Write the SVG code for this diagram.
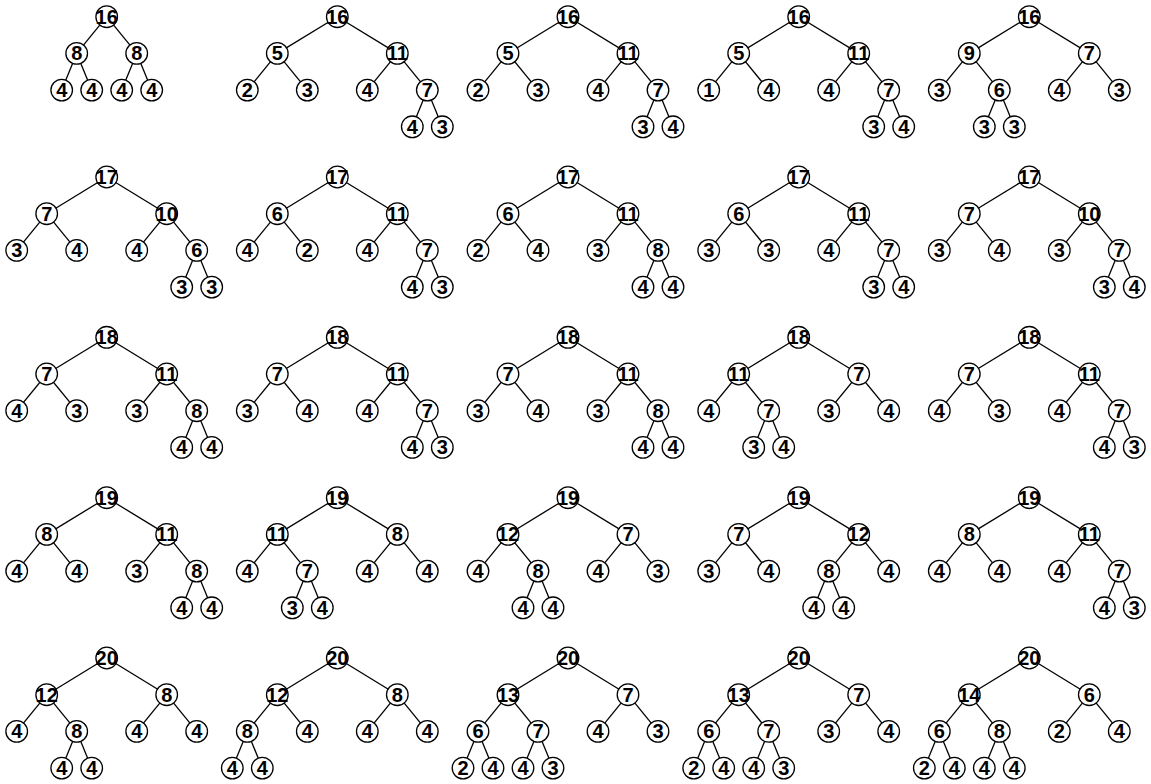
<svg xmlns="http://www.w3.org/2000/svg" width="1151" height="784" viewBox="0 0 1151 784">
<style>
.node circle{fill:#fff;stroke:#000;stroke-width:1.3}
.node text{font-family:"Liberation Sans",Arial,sans-serif;font-weight:bold;font-size:20px;text-anchor:middle;fill:#000}
.edges line{stroke:#000;stroke-width:1.3}
</style>
<rect width="1151" height="784" fill="#fff"/>
<g id="tree1" transform="translate(106.7,16.7)">
<g class="edges"><line x1="0" y1="0" x2="-30" y2="36.7"/><line x1="0" y1="0" x2="30" y2="36.7"/><line x1="-30" y1="36.7" x2="-45" y2="73.4"/><line x1="-30" y1="36.7" x2="-15" y2="73.4"/><line x1="30" y1="36.7" x2="15" y2="73.4"/><line x1="30" y1="36.7" x2="45" y2="73.4"/></g>
<g id="t1-root" class="node"><circle cx="0" cy="0" r="10.8"/><text x="0" y="7">16</text></g>
<g id="t1-L" class="node"><circle cx="-30" cy="36.7" r="10.8"/><text x="-30" y="43.7">8</text></g>
<g id="t1-R" class="node"><circle cx="30" cy="36.7" r="10.8"/><text x="30" y="43.7">8</text></g>
<g id="t1-LL" class="node"><circle cx="-45" cy="73.4" r="10.8"/><text x="-45" y="80.4">4</text></g>
<g id="t1-LR" class="node"><circle cx="-15" cy="73.4" r="10.8"/><text x="-15" y="80.4">4</text></g>
<g id="t1-RL" class="node"><circle cx="15" cy="73.4" r="10.8"/><text x="15" y="80.4">4</text></g>
<g id="t1-RR" class="node"><circle cx="45" cy="73.4" r="10.8"/><text x="45" y="80.4">4</text></g>
</g>
<g id="tree2" transform="translate(337.3,16.7)">
<g class="edges"><line x1="0" y1="0" x2="-60" y2="36.7"/><line x1="0" y1="0" x2="60" y2="36.7"/><line x1="-60" y1="36.7" x2="-90" y2="73.4"/><line x1="-60" y1="36.7" x2="-30" y2="73.4"/><line x1="60" y1="36.7" x2="30" y2="73.4"/><line x1="60" y1="36.7" x2="90" y2="73.4"/><line x1="90" y1="73.4" x2="75" y2="110.1"/><line x1="90" y1="73.4" x2="105" y2="110.1"/></g>
<g id="t2-root" class="node"><circle cx="0" cy="0" r="10.8"/><text x="0" y="7">16</text></g>
<g id="t2-L" class="node"><circle cx="-60" cy="36.7" r="10.8"/><text x="-60" y="43.7">5</text></g>
<g id="t2-R" class="node"><circle cx="60" cy="36.7" r="10.8"/><text x="60" y="43.7">11</text></g>
<g id="t2-LL" class="node"><circle cx="-90" cy="73.4" r="10.8"/><text x="-90" y="80.4">2</text></g>
<g id="t2-LR" class="node"><circle cx="-30" cy="73.4" r="10.8"/><text x="-30" y="80.4">3</text></g>
<g id="t2-RL" class="node"><circle cx="30" cy="73.4" r="10.8"/><text x="30" y="80.4">4</text></g>
<g id="t2-RR" class="node"><circle cx="90" cy="73.4" r="10.8"/><text x="90" y="80.4">7</text></g>
<g id="t2-RRL" class="node"><circle cx="75" cy="110.1" r="10.8"/><text x="75" y="117.1">4</text></g>
<g id="t2-RRR" class="node"><circle cx="105" cy="110.1" r="10.8"/><text x="105" y="117.1">3</text></g>
</g>
<g id="tree3" transform="translate(568,16.7)">
<g class="edges"><line x1="0" y1="0" x2="-60" y2="36.7"/><line x1="0" y1="0" x2="60" y2="36.7"/><line x1="-60" y1="36.7" x2="-90" y2="73.4"/><line x1="-60" y1="36.7" x2="-30" y2="73.4"/><line x1="60" y1="36.7" x2="30" y2="73.4"/><line x1="60" y1="36.7" x2="90" y2="73.4"/><line x1="90" y1="73.4" x2="75" y2="110.1"/><line x1="90" y1="73.4" x2="105" y2="110.1"/></g>
<g id="t3-root" class="node"><circle cx="0" cy="0" r="10.8"/><text x="0" y="7">16</text></g>
<g id="t3-L" class="node"><circle cx="-60" cy="36.7" r="10.8"/><text x="-60" y="43.7">5</text></g>
<g id="t3-R" class="node"><circle cx="60" cy="36.7" r="10.8"/><text x="60" y="43.7">11</text></g>
<g id="t3-LL" class="node"><circle cx="-90" cy="73.4" r="10.8"/><text x="-90" y="80.4">2</text></g>
<g id="t3-LR" class="node"><circle cx="-30" cy="73.4" r="10.8"/><text x="-30" y="80.4">3</text></g>
<g id="t3-RL" class="node"><circle cx="30" cy="73.4" r="10.8"/><text x="30" y="80.4">4</text></g>
<g id="t3-RR" class="node"><circle cx="90" cy="73.4" r="10.8"/><text x="90" y="80.4">7</text></g>
<g id="t3-RRL" class="node"><circle cx="75" cy="110.1" r="10.8"/><text x="75" y="117.1">3</text></g>
<g id="t3-RRR" class="node"><circle cx="105" cy="110.1" r="10.8"/><text x="105" y="117.1">4</text></g>
</g>
<g id="tree4" transform="translate(798.7,16.7)">
<g class="edges"><line x1="0" y1="0" x2="-60" y2="36.7"/><line x1="0" y1="0" x2="60" y2="36.7"/><line x1="-60" y1="36.7" x2="-90" y2="73.4"/><line x1="-60" y1="36.7" x2="-30" y2="73.4"/><line x1="60" y1="36.7" x2="30" y2="73.4"/><line x1="60" y1="36.7" x2="90" y2="73.4"/><line x1="90" y1="73.4" x2="75" y2="110.1"/><line x1="90" y1="73.4" x2="105" y2="110.1"/></g>
<g id="t4-root" class="node"><circle cx="0" cy="0" r="10.8"/><text x="0" y="7">16</text></g>
<g id="t4-L" class="node"><circle cx="-60" cy="36.7" r="10.8"/><text x="-60" y="43.7">5</text></g>
<g id="t4-R" class="node"><circle cx="60" cy="36.7" r="10.8"/><text x="60" y="43.7">11</text></g>
<g id="t4-LL" class="node"><circle cx="-90" cy="73.4" r="10.8"/><text x="-90" y="80.4">1</text></g>
<g id="t4-LR" class="node"><circle cx="-30" cy="73.4" r="10.8"/><text x="-30" y="80.4">4</text></g>
<g id="t4-RL" class="node"><circle cx="30" cy="73.4" r="10.8"/><text x="30" y="80.4">4</text></g>
<g id="t4-RR" class="node"><circle cx="90" cy="73.4" r="10.8"/><text x="90" y="80.4">7</text></g>
<g id="t4-RRL" class="node"><circle cx="75" cy="110.1" r="10.8"/><text x="75" y="117.1">3</text></g>
<g id="t4-RRR" class="node"><circle cx="105" cy="110.1" r="10.8"/><text x="105" y="117.1">4</text></g>
</g>
<g id="tree5" transform="translate(1029.3,16.7)">
<g class="edges"><line x1="0" y1="0" x2="-60" y2="36.7"/><line x1="0" y1="0" x2="60" y2="36.7"/><line x1="-60" y1="36.7" x2="-90" y2="73.4"/><line x1="-60" y1="36.7" x2="-30" y2="73.4"/><line x1="60" y1="36.7" x2="30" y2="73.4"/><line x1="60" y1="36.7" x2="90" y2="73.4"/><line x1="-30" y1="73.4" x2="-45" y2="110.1"/><line x1="-30" y1="73.4" x2="-15" y2="110.1"/></g>
<g id="t5-root" class="node"><circle cx="0" cy="0" r="10.8"/><text x="0" y="7">16</text></g>
<g id="t5-L" class="node"><circle cx="-60" cy="36.7" r="10.8"/><text x="-60" y="43.7">9</text></g>
<g id="t5-R" class="node"><circle cx="60" cy="36.7" r="10.8"/><text x="60" y="43.7">7</text></g>
<g id="t5-LL" class="node"><circle cx="-90" cy="73.4" r="10.8"/><text x="-90" y="80.4">3</text></g>
<g id="t5-LR" class="node"><circle cx="-30" cy="73.4" r="10.8"/><text x="-30" y="80.4">6</text></g>
<g id="t5-RL" class="node"><circle cx="30" cy="73.4" r="10.8"/><text x="30" y="80.4">4</text></g>
<g id="t5-RR" class="node"><circle cx="90" cy="73.4" r="10.8"/><text x="90" y="80.4">3</text></g>
<g id="t5-LRL" class="node"><circle cx="-45" cy="110.1" r="10.8"/><text x="-45" y="117.1">3</text></g>
<g id="t5-LRR" class="node"><circle cx="-15" cy="110.1" r="10.8"/><text x="-15" y="117.1">3</text></g>
</g>
<g id="tree6" transform="translate(106.7,177)">
<g class="edges"><line x1="0" y1="0" x2="-60" y2="36.7"/><line x1="0" y1="0" x2="60" y2="36.7"/><line x1="-60" y1="36.7" x2="-90" y2="73.4"/><line x1="-60" y1="36.7" x2="-30" y2="73.4"/><line x1="60" y1="36.7" x2="30" y2="73.4"/><line x1="60" y1="36.7" x2="90" y2="73.4"/><line x1="90" y1="73.4" x2="75" y2="110.1"/><line x1="90" y1="73.4" x2="105" y2="110.1"/></g>
<g id="t6-root" class="node"><circle cx="0" cy="0" r="10.8"/><text x="0" y="7">17</text></g>
<g id="t6-L" class="node"><circle cx="-60" cy="36.7" r="10.8"/><text x="-60" y="43.7">7</text></g>
<g id="t6-R" class="node"><circle cx="60" cy="36.7" r="10.8"/><text x="60" y="43.7">10</text></g>
<g id="t6-LL" class="node"><circle cx="-90" cy="73.4" r="10.8"/><text x="-90" y="80.4">3</text></g>
<g id="t6-LR" class="node"><circle cx="-30" cy="73.4" r="10.8"/><text x="-30" y="80.4">4</text></g>
<g id="t6-RL" class="node"><circle cx="30" cy="73.4" r="10.8"/><text x="30" y="80.4">4</text></g>
<g id="t6-RR" class="node"><circle cx="90" cy="73.4" r="10.8"/><text x="90" y="80.4">6</text></g>
<g id="t6-RRL" class="node"><circle cx="75" cy="110.1" r="10.8"/><text x="75" y="117.1">3</text></g>
<g id="t6-RRR" class="node"><circle cx="105" cy="110.1" r="10.8"/><text x="105" y="117.1">3</text></g>
</g>
<g id="tree7" transform="translate(337.3,177)">
<g class="edges"><line x1="0" y1="0" x2="-60" y2="36.7"/><line x1="0" y1="0" x2="60" y2="36.7"/><line x1="-60" y1="36.7" x2="-90" y2="73.4"/><line x1="-60" y1="36.7" x2="-30" y2="73.4"/><line x1="60" y1="36.7" x2="30" y2="73.4"/><line x1="60" y1="36.7" x2="90" y2="73.4"/><line x1="90" y1="73.4" x2="75" y2="110.1"/><line x1="90" y1="73.4" x2="105" y2="110.1"/></g>
<g id="t7-root" class="node"><circle cx="0" cy="0" r="10.8"/><text x="0" y="7">17</text></g>
<g id="t7-L" class="node"><circle cx="-60" cy="36.7" r="10.8"/><text x="-60" y="43.7">6</text></g>
<g id="t7-R" class="node"><circle cx="60" cy="36.7" r="10.8"/><text x="60" y="43.7">11</text></g>
<g id="t7-LL" class="node"><circle cx="-90" cy="73.4" r="10.8"/><text x="-90" y="80.4">4</text></g>
<g id="t7-LR" class="node"><circle cx="-30" cy="73.4" r="10.8"/><text x="-30" y="80.4">2</text></g>
<g id="t7-RL" class="node"><circle cx="30" cy="73.4" r="10.8"/><text x="30" y="80.4">4</text></g>
<g id="t7-RR" class="node"><circle cx="90" cy="73.4" r="10.8"/><text x="90" y="80.4">7</text></g>
<g id="t7-RRL" class="node"><circle cx="75" cy="110.1" r="10.8"/><text x="75" y="117.1">4</text></g>
<g id="t7-RRR" class="node"><circle cx="105" cy="110.1" r="10.8"/><text x="105" y="117.1">3</text></g>
</g>
<g id="tree8" transform="translate(568,177)">
<g class="edges"><line x1="0" y1="0" x2="-60" y2="36.7"/><line x1="0" y1="0" x2="60" y2="36.7"/><line x1="-60" y1="36.7" x2="-90" y2="73.4"/><line x1="-60" y1="36.7" x2="-30" y2="73.4"/><line x1="60" y1="36.7" x2="30" y2="73.4"/><line x1="60" y1="36.7" x2="90" y2="73.4"/><line x1="90" y1="73.4" x2="75" y2="110.1"/><line x1="90" y1="73.4" x2="105" y2="110.1"/></g>
<g id="t8-root" class="node"><circle cx="0" cy="0" r="10.8"/><text x="0" y="7">17</text></g>
<g id="t8-L" class="node"><circle cx="-60" cy="36.7" r="10.8"/><text x="-60" y="43.7">6</text></g>
<g id="t8-R" class="node"><circle cx="60" cy="36.7" r="10.8"/><text x="60" y="43.7">11</text></g>
<g id="t8-LL" class="node"><circle cx="-90" cy="73.4" r="10.8"/><text x="-90" y="80.4">2</text></g>
<g id="t8-LR" class="node"><circle cx="-30" cy="73.4" r="10.8"/><text x="-30" y="80.4">4</text></g>
<g id="t8-RL" class="node"><circle cx="30" cy="73.4" r="10.8"/><text x="30" y="80.4">3</text></g>
<g id="t8-RR" class="node"><circle cx="90" cy="73.4" r="10.8"/><text x="90" y="80.4">8</text></g>
<g id="t8-RRL" class="node"><circle cx="75" cy="110.1" r="10.8"/><text x="75" y="117.1">4</text></g>
<g id="t8-RRR" class="node"><circle cx="105" cy="110.1" r="10.8"/><text x="105" y="117.1">4</text></g>
</g>
<g id="tree9" transform="translate(798.7,177)">
<g class="edges"><line x1="0" y1="0" x2="-60" y2="36.7"/><line x1="0" y1="0" x2="60" y2="36.7"/><line x1="-60" y1="36.7" x2="-90" y2="73.4"/><line x1="-60" y1="36.7" x2="-30" y2="73.4"/><line x1="60" y1="36.7" x2="30" y2="73.4"/><line x1="60" y1="36.7" x2="90" y2="73.4"/><line x1="90" y1="73.4" x2="75" y2="110.1"/><line x1="90" y1="73.4" x2="105" y2="110.1"/></g>
<g id="t9-root" class="node"><circle cx="0" cy="0" r="10.8"/><text x="0" y="7">17</text></g>
<g id="t9-L" class="node"><circle cx="-60" cy="36.7" r="10.8"/><text x="-60" y="43.7">6</text></g>
<g id="t9-R" class="node"><circle cx="60" cy="36.7" r="10.8"/><text x="60" y="43.7">11</text></g>
<g id="t9-LL" class="node"><circle cx="-90" cy="73.4" r="10.8"/><text x="-90" y="80.4">3</text></g>
<g id="t9-LR" class="node"><circle cx="-30" cy="73.4" r="10.8"/><text x="-30" y="80.4">3</text></g>
<g id="t9-RL" class="node"><circle cx="30" cy="73.4" r="10.8"/><text x="30" y="80.4">4</text></g>
<g id="t9-RR" class="node"><circle cx="90" cy="73.4" r="10.8"/><text x="90" y="80.4">7</text></g>
<g id="t9-RRL" class="node"><circle cx="75" cy="110.1" r="10.8"/><text x="75" y="117.1">3</text></g>
<g id="t9-RRR" class="node"><circle cx="105" cy="110.1" r="10.8"/><text x="105" y="117.1">4</text></g>
</g>
<g id="tree10" transform="translate(1029.3,177)">
<g class="edges"><line x1="0" y1="0" x2="-60" y2="36.7"/><line x1="0" y1="0" x2="60" y2="36.7"/><line x1="-60" y1="36.7" x2="-90" y2="73.4"/><line x1="-60" y1="36.7" x2="-30" y2="73.4"/><line x1="60" y1="36.7" x2="30" y2="73.4"/><line x1="60" y1="36.7" x2="90" y2="73.4"/><line x1="90" y1="73.4" x2="75" y2="110.1"/><line x1="90" y1="73.4" x2="105" y2="110.1"/></g>
<g id="t10-root" class="node"><circle cx="0" cy="0" r="10.8"/><text x="0" y="7">17</text></g>
<g id="t10-L" class="node"><circle cx="-60" cy="36.7" r="10.8"/><text x="-60" y="43.7">7</text></g>
<g id="t10-R" class="node"><circle cx="60" cy="36.7" r="10.8"/><text x="60" y="43.7">10</text></g>
<g id="t10-LL" class="node"><circle cx="-90" cy="73.4" r="10.8"/><text x="-90" y="80.4">3</text></g>
<g id="t10-LR" class="node"><circle cx="-30" cy="73.4" r="10.8"/><text x="-30" y="80.4">4</text></g>
<g id="t10-RL" class="node"><circle cx="30" cy="73.4" r="10.8"/><text x="30" y="80.4">3</text></g>
<g id="t10-RR" class="node"><circle cx="90" cy="73.4" r="10.8"/><text x="90" y="80.4">7</text></g>
<g id="t10-RRL" class="node"><circle cx="75" cy="110.1" r="10.8"/><text x="75" y="117.1">3</text></g>
<g id="t10-RRR" class="node"><circle cx="105" cy="110.1" r="10.8"/><text x="105" y="117.1">4</text></g>
</g>
<g id="tree11" transform="translate(106.7,337.3)">
<g class="edges"><line x1="0" y1="0" x2="-60" y2="36.7"/><line x1="0" y1="0" x2="60" y2="36.7"/><line x1="-60" y1="36.7" x2="-90" y2="73.4"/><line x1="-60" y1="36.7" x2="-30" y2="73.4"/><line x1="60" y1="36.7" x2="30" y2="73.4"/><line x1="60" y1="36.7" x2="90" y2="73.4"/><line x1="90" y1="73.4" x2="75" y2="110.1"/><line x1="90" y1="73.4" x2="105" y2="110.1"/></g>
<g id="t11-root" class="node"><circle cx="0" cy="0" r="10.8"/><text x="0" y="7">18</text></g>
<g id="t11-L" class="node"><circle cx="-60" cy="36.7" r="10.8"/><text x="-60" y="43.7">7</text></g>
<g id="t11-R" class="node"><circle cx="60" cy="36.7" r="10.8"/><text x="60" y="43.7">11</text></g>
<g id="t11-LL" class="node"><circle cx="-90" cy="73.4" r="10.8"/><text x="-90" y="80.4">4</text></g>
<g id="t11-LR" class="node"><circle cx="-30" cy="73.4" r="10.8"/><text x="-30" y="80.4">3</text></g>
<g id="t11-RL" class="node"><circle cx="30" cy="73.4" r="10.8"/><text x="30" y="80.4">3</text></g>
<g id="t11-RR" class="node"><circle cx="90" cy="73.4" r="10.8"/><text x="90" y="80.4">8</text></g>
<g id="t11-RRL" class="node"><circle cx="75" cy="110.1" r="10.8"/><text x="75" y="117.1">4</text></g>
<g id="t11-RRR" class="node"><circle cx="105" cy="110.1" r="10.8"/><text x="105" y="117.1">4</text></g>
</g>
<g id="tree12" transform="translate(337.3,337.3)">
<g class="edges"><line x1="0" y1="0" x2="-60" y2="36.7"/><line x1="0" y1="0" x2="60" y2="36.7"/><line x1="-60" y1="36.7" x2="-90" y2="73.4"/><line x1="-60" y1="36.7" x2="-30" y2="73.4"/><line x1="60" y1="36.7" x2="30" y2="73.4"/><line x1="60" y1="36.7" x2="90" y2="73.4"/><line x1="90" y1="73.4" x2="75" y2="110.1"/><line x1="90" y1="73.4" x2="105" y2="110.1"/></g>
<g id="t12-root" class="node"><circle cx="0" cy="0" r="10.8"/><text x="0" y="7">18</text></g>
<g id="t12-L" class="node"><circle cx="-60" cy="36.7" r="10.8"/><text x="-60" y="43.7">7</text></g>
<g id="t12-R" class="node"><circle cx="60" cy="36.7" r="10.8"/><text x="60" y="43.7">11</text></g>
<g id="t12-LL" class="node"><circle cx="-90" cy="73.4" r="10.8"/><text x="-90" y="80.4">3</text></g>
<g id="t12-LR" class="node"><circle cx="-30" cy="73.4" r="10.8"/><text x="-30" y="80.4">4</text></g>
<g id="t12-RL" class="node"><circle cx="30" cy="73.4" r="10.8"/><text x="30" y="80.4">4</text></g>
<g id="t12-RR" class="node"><circle cx="90" cy="73.4" r="10.8"/><text x="90" y="80.4">7</text></g>
<g id="t12-RRL" class="node"><circle cx="75" cy="110.1" r="10.8"/><text x="75" y="117.1">4</text></g>
<g id="t12-RRR" class="node"><circle cx="105" cy="110.1" r="10.8"/><text x="105" y="117.1">3</text></g>
</g>
<g id="tree13" transform="translate(568,337.3)">
<g class="edges"><line x1="0" y1="0" x2="-60" y2="36.7"/><line x1="0" y1="0" x2="60" y2="36.7"/><line x1="-60" y1="36.7" x2="-90" y2="73.4"/><line x1="-60" y1="36.7" x2="-30" y2="73.4"/><line x1="60" y1="36.7" x2="30" y2="73.4"/><line x1="60" y1="36.7" x2="90" y2="73.4"/><line x1="90" y1="73.4" x2="75" y2="110.1"/><line x1="90" y1="73.4" x2="105" y2="110.1"/></g>
<g id="t13-root" class="node"><circle cx="0" cy="0" r="10.8"/><text x="0" y="7">18</text></g>
<g id="t13-L" class="node"><circle cx="-60" cy="36.7" r="10.8"/><text x="-60" y="43.7">7</text></g>
<g id="t13-R" class="node"><circle cx="60" cy="36.7" r="10.8"/><text x="60" y="43.7">11</text></g>
<g id="t13-LL" class="node"><circle cx="-90" cy="73.4" r="10.8"/><text x="-90" y="80.4">3</text></g>
<g id="t13-LR" class="node"><circle cx="-30" cy="73.4" r="10.8"/><text x="-30" y="80.4">4</text></g>
<g id="t13-RL" class="node"><circle cx="30" cy="73.4" r="10.8"/><text x="30" y="80.4">3</text></g>
<g id="t13-RR" class="node"><circle cx="90" cy="73.4" r="10.8"/><text x="90" y="80.4">8</text></g>
<g id="t13-RRL" class="node"><circle cx="75" cy="110.1" r="10.8"/><text x="75" y="117.1">4</text></g>
<g id="t13-RRR" class="node"><circle cx="105" cy="110.1" r="10.8"/><text x="105" y="117.1">4</text></g>
</g>
<g id="tree14" transform="translate(798.7,337.3)">
<g class="edges"><line x1="0" y1="0" x2="-60" y2="36.7"/><line x1="0" y1="0" x2="60" y2="36.7"/><line x1="-60" y1="36.7" x2="-90" y2="73.4"/><line x1="-60" y1="36.7" x2="-30" y2="73.4"/><line x1="60" y1="36.7" x2="30" y2="73.4"/><line x1="60" y1="36.7" x2="90" y2="73.4"/><line x1="-30" y1="73.4" x2="-45" y2="110.1"/><line x1="-30" y1="73.4" x2="-15" y2="110.1"/></g>
<g id="t14-root" class="node"><circle cx="0" cy="0" r="10.8"/><text x="0" y="7">18</text></g>
<g id="t14-L" class="node"><circle cx="-60" cy="36.7" r="10.8"/><text x="-60" y="43.7">11</text></g>
<g id="t14-R" class="node"><circle cx="60" cy="36.7" r="10.8"/><text x="60" y="43.7">7</text></g>
<g id="t14-LL" class="node"><circle cx="-90" cy="73.4" r="10.8"/><text x="-90" y="80.4">4</text></g>
<g id="t14-LR" class="node"><circle cx="-30" cy="73.4" r="10.8"/><text x="-30" y="80.4">7</text></g>
<g id="t14-RL" class="node"><circle cx="30" cy="73.4" r="10.8"/><text x="30" y="80.4">3</text></g>
<g id="t14-RR" class="node"><circle cx="90" cy="73.4" r="10.8"/><text x="90" y="80.4">4</text></g>
<g id="t14-LRL" class="node"><circle cx="-45" cy="110.1" r="10.8"/><text x="-45" y="117.1">3</text></g>
<g id="t14-LRR" class="node"><circle cx="-15" cy="110.1" r="10.8"/><text x="-15" y="117.1">4</text></g>
</g>
<g id="tree15" transform="translate(1029.3,337.3)">
<g class="edges"><line x1="0" y1="0" x2="-60" y2="36.7"/><line x1="0" y1="0" x2="60" y2="36.7"/><line x1="-60" y1="36.7" x2="-90" y2="73.4"/><line x1="-60" y1="36.7" x2="-30" y2="73.4"/><line x1="60" y1="36.7" x2="30" y2="73.4"/><line x1="60" y1="36.7" x2="90" y2="73.4"/><line x1="90" y1="73.4" x2="75" y2="110.1"/><line x1="90" y1="73.4" x2="105" y2="110.1"/></g>
<g id="t15-root" class="node"><circle cx="0" cy="0" r="10.8"/><text x="0" y="7">18</text></g>
<g id="t15-L" class="node"><circle cx="-60" cy="36.7" r="10.8"/><text x="-60" y="43.7">7</text></g>
<g id="t15-R" class="node"><circle cx="60" cy="36.7" r="10.8"/><text x="60" y="43.7">11</text></g>
<g id="t15-LL" class="node"><circle cx="-90" cy="73.4" r="10.8"/><text x="-90" y="80.4">4</text></g>
<g id="t15-LR" class="node"><circle cx="-30" cy="73.4" r="10.8"/><text x="-30" y="80.4">3</text></g>
<g id="t15-RL" class="node"><circle cx="30" cy="73.4" r="10.8"/><text x="30" y="80.4">4</text></g>
<g id="t15-RR" class="node"><circle cx="90" cy="73.4" r="10.8"/><text x="90" y="80.4">7</text></g>
<g id="t15-RRL" class="node"><circle cx="75" cy="110.1" r="10.8"/><text x="75" y="117.1">4</text></g>
<g id="t15-RRR" class="node"><circle cx="105" cy="110.1" r="10.8"/><text x="105" y="117.1">3</text></g>
</g>
<g id="tree16" transform="translate(106.7,497.7)">
<g class="edges"><line x1="0" y1="0" x2="-60" y2="36.7"/><line x1="0" y1="0" x2="60" y2="36.7"/><line x1="-60" y1="36.7" x2="-90" y2="73.4"/><line x1="-60" y1="36.7" x2="-30" y2="73.4"/><line x1="60" y1="36.7" x2="30" y2="73.4"/><line x1="60" y1="36.7" x2="90" y2="73.4"/><line x1="90" y1="73.4" x2="75" y2="110.1"/><line x1="90" y1="73.4" x2="105" y2="110.1"/></g>
<g id="t16-root" class="node"><circle cx="0" cy="0" r="10.8"/><text x="0" y="7">19</text></g>
<g id="t16-L" class="node"><circle cx="-60" cy="36.7" r="10.8"/><text x="-60" y="43.7">8</text></g>
<g id="t16-R" class="node"><circle cx="60" cy="36.7" r="10.8"/><text x="60" y="43.7">11</text></g>
<g id="t16-LL" class="node"><circle cx="-90" cy="73.4" r="10.8"/><text x="-90" y="80.4">4</text></g>
<g id="t16-LR" class="node"><circle cx="-30" cy="73.4" r="10.8"/><text x="-30" y="80.4">4</text></g>
<g id="t16-RL" class="node"><circle cx="30" cy="73.4" r="10.8"/><text x="30" y="80.4">3</text></g>
<g id="t16-RR" class="node"><circle cx="90" cy="73.4" r="10.8"/><text x="90" y="80.4">8</text></g>
<g id="t16-RRL" class="node"><circle cx="75" cy="110.1" r="10.8"/><text x="75" y="117.1">4</text></g>
<g id="t16-RRR" class="node"><circle cx="105" cy="110.1" r="10.8"/><text x="105" y="117.1">4</text></g>
</g>
<g id="tree17" transform="translate(337.3,497.7)">
<g class="edges"><line x1="0" y1="0" x2="-60" y2="36.7"/><line x1="0" y1="0" x2="60" y2="36.7"/><line x1="-60" y1="36.7" x2="-90" y2="73.4"/><line x1="-60" y1="36.7" x2="-30" y2="73.4"/><line x1="60" y1="36.7" x2="30" y2="73.4"/><line x1="60" y1="36.7" x2="90" y2="73.4"/><line x1="-30" y1="73.4" x2="-45" y2="110.1"/><line x1="-30" y1="73.4" x2="-15" y2="110.1"/></g>
<g id="t17-root" class="node"><circle cx="0" cy="0" r="10.8"/><text x="0" y="7">19</text></g>
<g id="t17-L" class="node"><circle cx="-60" cy="36.7" r="10.8"/><text x="-60" y="43.7">11</text></g>
<g id="t17-R" class="node"><circle cx="60" cy="36.7" r="10.8"/><text x="60" y="43.7">8</text></g>
<g id="t17-LL" class="node"><circle cx="-90" cy="73.4" r="10.8"/><text x="-90" y="80.4">4</text></g>
<g id="t17-LR" class="node"><circle cx="-30" cy="73.4" r="10.8"/><text x="-30" y="80.4">7</text></g>
<g id="t17-RL" class="node"><circle cx="30" cy="73.4" r="10.8"/><text x="30" y="80.4">4</text></g>
<g id="t17-RR" class="node"><circle cx="90" cy="73.4" r="10.8"/><text x="90" y="80.4">4</text></g>
<g id="t17-LRL" class="node"><circle cx="-45" cy="110.1" r="10.8"/><text x="-45" y="117.1">3</text></g>
<g id="t17-LRR" class="node"><circle cx="-15" cy="110.1" r="10.8"/><text x="-15" y="117.1">4</text></g>
</g>
<g id="tree18" transform="translate(568,497.7)">
<g class="edges"><line x1="0" y1="0" x2="-60" y2="36.7"/><line x1="0" y1="0" x2="60" y2="36.7"/><line x1="-60" y1="36.7" x2="-90" y2="73.4"/><line x1="-60" y1="36.7" x2="-30" y2="73.4"/><line x1="60" y1="36.7" x2="30" y2="73.4"/><line x1="60" y1="36.7" x2="90" y2="73.4"/><line x1="-30" y1="73.4" x2="-45" y2="110.1"/><line x1="-30" y1="73.4" x2="-15" y2="110.1"/></g>
<g id="t18-root" class="node"><circle cx="0" cy="0" r="10.8"/><text x="0" y="7">19</text></g>
<g id="t18-L" class="node"><circle cx="-60" cy="36.7" r="10.8"/><text x="-60" y="43.7">12</text></g>
<g id="t18-R" class="node"><circle cx="60" cy="36.7" r="10.8"/><text x="60" y="43.7">7</text></g>
<g id="t18-LL" class="node"><circle cx="-90" cy="73.4" r="10.8"/><text x="-90" y="80.4">4</text></g>
<g id="t18-LR" class="node"><circle cx="-30" cy="73.4" r="10.8"/><text x="-30" y="80.4">8</text></g>
<g id="t18-RL" class="node"><circle cx="30" cy="73.4" r="10.8"/><text x="30" y="80.4">4</text></g>
<g id="t18-RR" class="node"><circle cx="90" cy="73.4" r="10.8"/><text x="90" y="80.4">3</text></g>
<g id="t18-LRL" class="node"><circle cx="-45" cy="110.1" r="10.8"/><text x="-45" y="117.1">4</text></g>
<g id="t18-LRR" class="node"><circle cx="-15" cy="110.1" r="10.8"/><text x="-15" y="117.1">4</text></g>
</g>
<g id="tree19" transform="translate(798.7,497.7)">
<g class="edges"><line x1="0" y1="0" x2="-60" y2="36.7"/><line x1="0" y1="0" x2="60" y2="36.7"/><line x1="-60" y1="36.7" x2="-90" y2="73.4"/><line x1="-60" y1="36.7" x2="-30" y2="73.4"/><line x1="60" y1="36.7" x2="30" y2="73.4"/><line x1="60" y1="36.7" x2="90" y2="73.4"/><line x1="30" y1="73.4" x2="15" y2="110.1"/><line x1="30" y1="73.4" x2="45" y2="110.1"/></g>
<g id="t19-root" class="node"><circle cx="0" cy="0" r="10.8"/><text x="0" y="7">19</text></g>
<g id="t19-L" class="node"><circle cx="-60" cy="36.7" r="10.8"/><text x="-60" y="43.7">7</text></g>
<g id="t19-R" class="node"><circle cx="60" cy="36.7" r="10.8"/><text x="60" y="43.7">12</text></g>
<g id="t19-LL" class="node"><circle cx="-90" cy="73.4" r="10.8"/><text x="-90" y="80.4">3</text></g>
<g id="t19-LR" class="node"><circle cx="-30" cy="73.4" r="10.8"/><text x="-30" y="80.4">4</text></g>
<g id="t19-RL" class="node"><circle cx="30" cy="73.4" r="10.8"/><text x="30" y="80.4">8</text></g>
<g id="t19-RR" class="node"><circle cx="90" cy="73.4" r="10.8"/><text x="90" y="80.4">4</text></g>
<g id="t19-RLL" class="node"><circle cx="15" cy="110.1" r="10.8"/><text x="15" y="117.1">4</text></g>
<g id="t19-RLR" class="node"><circle cx="45" cy="110.1" r="10.8"/><text x="45" y="117.1">4</text></g>
</g>
<g id="tree20" transform="translate(1029.3,497.7)">
<g class="edges"><line x1="0" y1="0" x2="-60" y2="36.7"/><line x1="0" y1="0" x2="60" y2="36.7"/><line x1="-60" y1="36.7" x2="-90" y2="73.4"/><line x1="-60" y1="36.7" x2="-30" y2="73.4"/><line x1="60" y1="36.7" x2="30" y2="73.4"/><line x1="60" y1="36.7" x2="90" y2="73.4"/><line x1="90" y1="73.4" x2="75" y2="110.1"/><line x1="90" y1="73.4" x2="105" y2="110.1"/></g>
<g id="t20-root" class="node"><circle cx="0" cy="0" r="10.8"/><text x="0" y="7">19</text></g>
<g id="t20-L" class="node"><circle cx="-60" cy="36.7" r="10.8"/><text x="-60" y="43.7">8</text></g>
<g id="t20-R" class="node"><circle cx="60" cy="36.7" r="10.8"/><text x="60" y="43.7">11</text></g>
<g id="t20-LL" class="node"><circle cx="-90" cy="73.4" r="10.8"/><text x="-90" y="80.4">4</text></g>
<g id="t20-LR" class="node"><circle cx="-30" cy="73.4" r="10.8"/><text x="-30" y="80.4">4</text></g>
<g id="t20-RL" class="node"><circle cx="30" cy="73.4" r="10.8"/><text x="30" y="80.4">4</text></g>
<g id="t20-RR" class="node"><circle cx="90" cy="73.4" r="10.8"/><text x="90" y="80.4">7</text></g>
<g id="t20-RRL" class="node"><circle cx="75" cy="110.1" r="10.8"/><text x="75" y="117.1">4</text></g>
<g id="t20-RRR" class="node"><circle cx="105" cy="110.1" r="10.8"/><text x="105" y="117.1">3</text></g>
</g>
<g id="tree21" transform="translate(106.7,658)">
<g class="edges"><line x1="0" y1="0" x2="-60" y2="36.7"/><line x1="0" y1="0" x2="60" y2="36.7"/><line x1="-60" y1="36.7" x2="-90" y2="73.4"/><line x1="-60" y1="36.7" x2="-30" y2="73.4"/><line x1="60" y1="36.7" x2="30" y2="73.4"/><line x1="60" y1="36.7" x2="90" y2="73.4"/><line x1="-30" y1="73.4" x2="-45" y2="110.1"/><line x1="-30" y1="73.4" x2="-15" y2="110.1"/></g>
<g id="t21-root" class="node"><circle cx="0" cy="0" r="10.8"/><text x="0" y="7">20</text></g>
<g id="t21-L" class="node"><circle cx="-60" cy="36.7" r="10.8"/><text x="-60" y="43.7">12</text></g>
<g id="t21-R" class="node"><circle cx="60" cy="36.7" r="10.8"/><text x="60" y="43.7">8</text></g>
<g id="t21-LL" class="node"><circle cx="-90" cy="73.4" r="10.8"/><text x="-90" y="80.4">4</text></g>
<g id="t21-LR" class="node"><circle cx="-30" cy="73.4" r="10.8"/><text x="-30" y="80.4">8</text></g>
<g id="t21-RL" class="node"><circle cx="30" cy="73.4" r="10.8"/><text x="30" y="80.4">4</text></g>
<g id="t21-RR" class="node"><circle cx="90" cy="73.4" r="10.8"/><text x="90" y="80.4">4</text></g>
<g id="t21-LRL" class="node"><circle cx="-45" cy="110.1" r="10.8"/><text x="-45" y="117.1">4</text></g>
<g id="t21-LRR" class="node"><circle cx="-15" cy="110.1" r="10.8"/><text x="-15" y="117.1">4</text></g>
</g>
<g id="tree22" transform="translate(337.3,658)">
<g class="edges"><line x1="0" y1="0" x2="-60" y2="36.7"/><line x1="0" y1="0" x2="60" y2="36.7"/><line x1="-60" y1="36.7" x2="-90" y2="73.4"/><line x1="-60" y1="36.7" x2="-30" y2="73.4"/><line x1="60" y1="36.7" x2="30" y2="73.4"/><line x1="60" y1="36.7" x2="90" y2="73.4"/><line x1="-90" y1="73.4" x2="-105" y2="110.1"/><line x1="-90" y1="73.4" x2="-75" y2="110.1"/></g>
<g id="t22-root" class="node"><circle cx="0" cy="0" r="10.8"/><text x="0" y="7">20</text></g>
<g id="t22-L" class="node"><circle cx="-60" cy="36.7" r="10.8"/><text x="-60" y="43.7">12</text></g>
<g id="t22-R" class="node"><circle cx="60" cy="36.7" r="10.8"/><text x="60" y="43.7">8</text></g>
<g id="t22-LL" class="node"><circle cx="-90" cy="73.4" r="10.8"/><text x="-90" y="80.4">8</text></g>
<g id="t22-LR" class="node"><circle cx="-30" cy="73.4" r="10.8"/><text x="-30" y="80.4">4</text></g>
<g id="t22-RL" class="node"><circle cx="30" cy="73.4" r="10.8"/><text x="30" y="80.4">4</text></g>
<g id="t22-RR" class="node"><circle cx="90" cy="73.4" r="10.8"/><text x="90" y="80.4">4</text></g>
<g id="t22-LLL" class="node"><circle cx="-105" cy="110.1" r="10.8"/><text x="-105" y="117.1">4</text></g>
<g id="t22-LLR" class="node"><circle cx="-75" cy="110.1" r="10.8"/><text x="-75" y="117.1">4</text></g>
</g>
<g id="tree23" transform="translate(568,658)">
<g class="edges"><line x1="0" y1="0" x2="-60" y2="36.7"/><line x1="0" y1="0" x2="60" y2="36.7"/><line x1="-60" y1="36.7" x2="-90" y2="73.4"/><line x1="-60" y1="36.7" x2="-30" y2="73.4"/><line x1="60" y1="36.7" x2="30" y2="73.4"/><line x1="60" y1="36.7" x2="90" y2="73.4"/><line x1="-90" y1="73.4" x2="-105" y2="110.1"/><line x1="-90" y1="73.4" x2="-75" y2="110.1"/><line x1="-30" y1="73.4" x2="-45" y2="110.1"/><line x1="-30" y1="73.4" x2="-15" y2="110.1"/></g>
<g id="t23-root" class="node"><circle cx="0" cy="0" r="10.8"/><text x="0" y="7">20</text></g>
<g id="t23-L" class="node"><circle cx="-60" cy="36.7" r="10.8"/><text x="-60" y="43.7">13</text></g>
<g id="t23-R" class="node"><circle cx="60" cy="36.7" r="10.8"/><text x="60" y="43.7">7</text></g>
<g id="t23-LL" class="node"><circle cx="-90" cy="73.4" r="10.8"/><text x="-90" y="80.4">6</text></g>
<g id="t23-LR" class="node"><circle cx="-30" cy="73.4" r="10.8"/><text x="-30" y="80.4">7</text></g>
<g id="t23-RL" class="node"><circle cx="30" cy="73.4" r="10.8"/><text x="30" y="80.4">4</text></g>
<g id="t23-RR" class="node"><circle cx="90" cy="73.4" r="10.8"/><text x="90" y="80.4">3</text></g>
<g id="t23-LLL" class="node"><circle cx="-105" cy="110.1" r="10.8"/><text x="-105" y="117.1">2</text></g>
<g id="t23-LLR" class="node"><circle cx="-75" cy="110.1" r="10.8"/><text x="-75" y="117.1">4</text></g>
<g id="t23-LRL" class="node"><circle cx="-45" cy="110.1" r="10.8"/><text x="-45" y="117.1">4</text></g>
<g id="t23-LRR" class="node"><circle cx="-15" cy="110.1" r="10.8"/><text x="-15" y="117.1">3</text></g>
</g>
<g id="tree24" transform="translate(798.7,658)">
<g class="edges"><line x1="0" y1="0" x2="-60" y2="36.7"/><line x1="0" y1="0" x2="60" y2="36.7"/><line x1="-60" y1="36.7" x2="-90" y2="73.4"/><line x1="-60" y1="36.7" x2="-30" y2="73.4"/><line x1="60" y1="36.7" x2="30" y2="73.4"/><line x1="60" y1="36.7" x2="90" y2="73.4"/><line x1="-90" y1="73.4" x2="-105" y2="110.1"/><line x1="-90" y1="73.4" x2="-75" y2="110.1"/><line x1="-30" y1="73.4" x2="-45" y2="110.1"/><line x1="-30" y1="73.4" x2="-15" y2="110.1"/></g>
<g id="t24-root" class="node"><circle cx="0" cy="0" r="10.8"/><text x="0" y="7">20</text></g>
<g id="t24-L" class="node"><circle cx="-60" cy="36.7" r="10.8"/><text x="-60" y="43.7">13</text></g>
<g id="t24-R" class="node"><circle cx="60" cy="36.7" r="10.8"/><text x="60" y="43.7">7</text></g>
<g id="t24-LL" class="node"><circle cx="-90" cy="73.4" r="10.8"/><text x="-90" y="80.4">6</text></g>
<g id="t24-LR" class="node"><circle cx="-30" cy="73.4" r="10.8"/><text x="-30" y="80.4">7</text></g>
<g id="t24-RL" class="node"><circle cx="30" cy="73.4" r="10.8"/><text x="30" y="80.4">3</text></g>
<g id="t24-RR" class="node"><circle cx="90" cy="73.4" r="10.8"/><text x="90" y="80.4">4</text></g>
<g id="t24-LLL" class="node"><circle cx="-105" cy="110.1" r="10.8"/><text x="-105" y="117.1">2</text></g>
<g id="t24-LLR" class="node"><circle cx="-75" cy="110.1" r="10.8"/><text x="-75" y="117.1">4</text></g>
<g id="t24-LRL" class="node"><circle cx="-45" cy="110.1" r="10.8"/><text x="-45" y="117.1">4</text></g>
<g id="t24-LRR" class="node"><circle cx="-15" cy="110.1" r="10.8"/><text x="-15" y="117.1">3</text></g>
</g>
<g id="tree25" transform="translate(1029.3,658)">
<g class="edges"><line x1="0" y1="0" x2="-60" y2="36.7"/><line x1="0" y1="0" x2="60" y2="36.7"/><line x1="-60" y1="36.7" x2="-90" y2="73.4"/><line x1="-60" y1="36.7" x2="-30" y2="73.4"/><line x1="60" y1="36.7" x2="30" y2="73.4"/><line x1="60" y1="36.7" x2="90" y2="73.4"/><line x1="-90" y1="73.4" x2="-105" y2="110.1"/><line x1="-90" y1="73.4" x2="-75" y2="110.1"/><line x1="-30" y1="73.4" x2="-45" y2="110.1"/><line x1="-30" y1="73.4" x2="-15" y2="110.1"/></g>
<g id="t25-root" class="node"><circle cx="0" cy="0" r="10.8"/><text x="0" y="7">20</text></g>
<g id="t25-L" class="node"><circle cx="-60" cy="36.7" r="10.8"/><text x="-60" y="43.7">14</text></g>
<g id="t25-R" class="node"><circle cx="60" cy="36.7" r="10.8"/><text x="60" y="43.7">6</text></g>
<g id="t25-LL" class="node"><circle cx="-90" cy="73.4" r="10.8"/><text x="-90" y="80.4">6</text></g>
<g id="t25-LR" class="node"><circle cx="-30" cy="73.4" r="10.8"/><text x="-30" y="80.4">8</text></g>
<g id="t25-RL" class="node"><circle cx="30" cy="73.4" r="10.8"/><text x="30" y="80.4">2</text></g>
<g id="t25-RR" class="node"><circle cx="90" cy="73.4" r="10.8"/><text x="90" y="80.4">4</text></g>
<g id="t25-LLL" class="node"><circle cx="-105" cy="110.1" r="10.8"/><text x="-105" y="117.1">2</text></g>
<g id="t25-LLR" class="node"><circle cx="-75" cy="110.1" r="10.8"/><text x="-75" y="117.1">4</text></g>
<g id="t25-LRL" class="node"><circle cx="-45" cy="110.1" r="10.8"/><text x="-45" y="117.1">4</text></g>
<g id="t25-LRR" class="node"><circle cx="-15" cy="110.1" r="10.8"/><text x="-15" y="117.1">4</text></g>
</g>
</svg>
